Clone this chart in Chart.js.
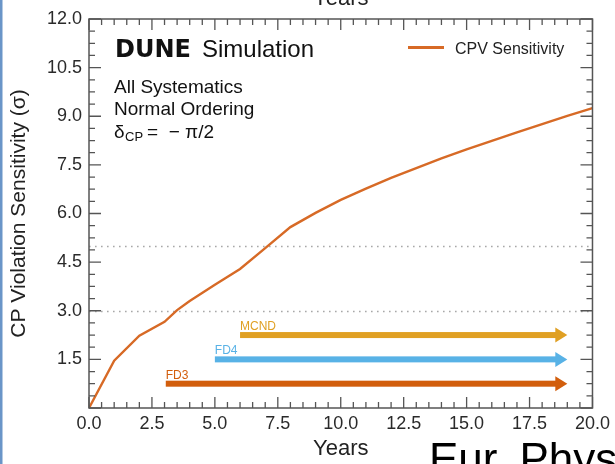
<!DOCTYPE html>
<html lang="en">
<head>
    <meta charset="UTF-8">
    <title>DUNE CPV Sensitivity</title>
    <script src="https://cdn.jsdelivr.net/npm/chart.js"></script>
    <style>
        html, body { margin: 0; padding: 0; background: #fff; }
        #wrap { position: relative; width: 615px; height: 464px; }
    </style>
</head>
<body>
    <div id="wrap">
        <canvas id="cpv-chart"></canvas>
    </div>

    <script>
        // data
        const years = [0, 1, 2, 3, 3.5, 4, 5, 6, 7, 8, 9, 10, 11, 12, 13, 14, 15, 16, 17, 18, 19, 20];
        const cpvSensitivity = [0, 1.46, 2.23, 2.66, 3.02, 3.30, 3.80, 4.29, 4.93, 5.58, 6.02, 6.42, 6.77, 7.10, 7.40, 7.70, 7.98, 8.24, 8.50, 8.76, 9.01, 9.25];

        // staging arrows (start year, end year, height on the y axis)
        const stageLabels = ['FD3', 'FD4', 'MCND'];
        const stageStart = [3.05, 5.0, 6.0];
        const stageEnd = [19.0, 19.0, 19.0];
        const stageLevel = [0.75, 1.5, 2.25];

        const sigmaLines = [3, 5];

        const FONT = "'Liberation Sans', Arial, sans-serif";
        const curveColor = '#d76a26';
        const stageColors = ['#d25e0c', '#58b2e6', '#e0a023'];
        const axisColor = '#555';

        const overlay = {
            id: 'overlay',
            beforeDatasetsDraw(chart) {
                const ctx = chart.ctx;
                const area = chart.chartArea;
                const y = chart.scales.y;
                ctx.save();
                ctx.strokeStyle = '#a8a8a8';
                ctx.lineWidth = 1.6;
                ctx.setLineDash([1.6, 4.4]);
                sigmaLines.forEach(v => {
                    const py = Math.round(y.getPixelForValue(v)) + 0.5;
                    ctx.beginPath();
                    ctx.moveTo(area.left, py);
                    ctx.lineTo(area.right, py);
                    ctx.stroke();
                });
                ctx.restore();
            },
            afterDatasetsDraw(chart) {
                const ctx = chart.ctx;
                const area = chart.chartArea;
                const x = chart.scales.x;
                const y = chart.scales.y;
                ctx.save();

                // arrows
                stageLabels.forEach((name, i) => {
                    const x0 = x.getPixelForValue(stageStart[i]);
                    const tip = x.getPixelForValue(stageEnd[i]);
                    const py = y.getPixelForValue(stageLevel[i]);
                    const headLen = 12, headHalf = 7.5, shaft = 6;
                    ctx.fillStyle = stageColors[i];
                    ctx.fillRect(x0, py - shaft / 2, tip - headLen - x0 + 1, shaft);
                    ctx.beginPath();
                    ctx.moveTo(tip - headLen, py - headHalf);
                    ctx.lineTo(tip, py);
                    ctx.lineTo(tip - headLen, py + headHalf);
                    ctx.closePath();
                    ctx.fill();
                    ctx.font = '12px ' + FONT;
                    ctx.textAlign = 'left';
                    ctx.textBaseline = 'alphabetic';
                    ctx.fillText(name, x0, py - 5);
                });

                // frame
                ctx.strokeStyle = axisColor;
                ctx.lineWidth = 1.5;
                ctx.strokeRect(area.left, area.top, area.right - area.left, area.bottom - area.top);

                // inward ticks on all four sides
                ctx.lineWidth = 1.3;
                ctx.beginPath();
                for (let k = 0; k <= 40; k++) {
                    const v = k * 0.5;
                    const len = (k % 5 === 0) ? 11 : 6;
                    const px = x.getPixelForValue(v);
                    ctx.moveTo(px, area.bottom); ctx.lineTo(px, area.bottom - len);
                    ctx.moveTo(px, area.top); ctx.lineTo(px, area.top + len);
                }
                for (let k = 0; k <= 32; k++) {
                    const v = k * 0.375;
                    const len = (k % 4 === 0) ? 12 : 6;
                    const py = y.getPixelForValue(v);
                    ctx.moveTo(area.left, py); ctx.lineTo(area.left + len, py);
                    ctx.moveTo(area.right, py); ctx.lineTo(area.right - len, py);
                }
                ctx.stroke();
                ctx.restore();
            },
            afterDraw(chart) {
                const ctx = chart.ctx;
                const area = chart.chartArea;
                ctx.save();
                ctx.textAlign = 'left';
                ctx.textBaseline = 'alphabetic';
                ctx.fillStyle = '#111';

                // DUNE Simulation
                ctx.font = "bold 24px 'DejaVu Sans', sans-serif";
                ctx.fillText('DUNE', area.left + 26, 57);
                ctx.font = '24px ' + FONT;
                ctx.fillText('Simulation', area.left + 113, 57);

                ctx.font = '19px ' + FONT;
                ctx.fillText('All Systematics', area.left + 25, 93);
                ctx.fillText('Normal Ordering', area.left + 25, 115);
                ctx.fillText('\u03b4', area.left + 25, 138);
                ctx.font = '13px ' + FONT;
                ctx.fillText('CP', area.left + 36, 141);
                ctx.font = '19px ' + FONT;
                ctx.fillText('=  \u2212 \u03c0/2', area.left + 58, 138);

                // legend
                ctx.strokeStyle = curveColor;
                ctx.lineWidth = 3;
                ctx.beginPath();
                ctx.moveTo(408, 47.5);
                ctx.lineTo(444, 47.5);
                ctx.stroke();
                ctx.fillStyle = '#222';
                ctx.font = '16px ' + FONT;
                ctx.fillText('CPV Sensitivity', 455, 54);

                // cut-off top axis title and caption from the page
                ctx.textAlign = 'center';
                ctx.font = '22px ' + FONT;
                ctx.fillText('Years', (area.left + area.right) / 2, 5);
                ctx.textAlign = 'left';
                ctx.fillStyle = '#000';
                ctx.font = '44px ' + FONT;
                ctx.fillText('Eur. Phys', 429, 474);

                // blue strip on the left edge
                ctx.fillStyle = '#6a95c8';
                ctx.fillRect(0, 0, 2.5, 464);
                ctx.restore();
            }
        };

        const chartElem = document.getElementById('cpv-chart');
        const cpvChart = new Chart(chartElem, {
            type: 'line',
            data: {
                datasets: [{
                    label: 'CPV Sensitivity',
                    data: years.map((yr, i) => ({ x: yr, y: cpvSensitivity[i] })),
                    borderColor: curveColor,
                    borderWidth: 2.4,
                    pointRadius: 0,
                    tension: 0,
                    fill: false
                }]
            },
            options: {
                responsive: true,
                maintainAspectRatio: false,
                animation: false,
                events: [],
                layout: { padding: { left: 0, top: 19, right: 22, bottom: 0 } },
                plugins: {
                    legend: { display: false },
                    tooltip: { enabled: false }
                },
                scales: {
                    x: {
                        type: 'linear',
                        min: 0,
                        max: 20,
                        grid: { display: false, drawTicks: false },
                        border: { display: false },
                        ticks: {
                            stepSize: 2.5,
                            autoSkip: false,
                            maxRotation: 0,
                            padding: 5,
                            color: '#2a2a2a',
                            font: { family: FONT, size: 18 },
                            callback: v => v.toFixed(1)
                        },
                        title: {
                            display: true,
                            text: 'Years',
                            color: '#222',
                            font: { family: FONT, size: 22 },
                            padding: { top: 0, bottom: 2 }
                        },
                        afterFit: scale => { scale.height = 56; }
                    },
                    y: {
                        min: 0,
                        max: 12,
                        grid: { display: false, drawTicks: false },
                        border: { display: false },
                        ticks: {
                            stepSize: 1.5,
                            padding: 7,
                            color: '#2a2a2a',
                            font: { family: FONT, size: 18 },
                            callback: v => (v === 0 ? '' : v.toFixed(1))
                        },
                        title: {
                            display: true,
                            text: 'CP Violation Sensitivity (\u03c3)',
                            color: '#222',
                            font: { family: FONT, size: 21 },
                            padding: { top: 7, bottom: 0 }
                        },
                        afterFit: scale => { scale.width = 89; }
                    }
                }
            },
            plugins: [overlay]
        });
    </script>
</body>
</html>
